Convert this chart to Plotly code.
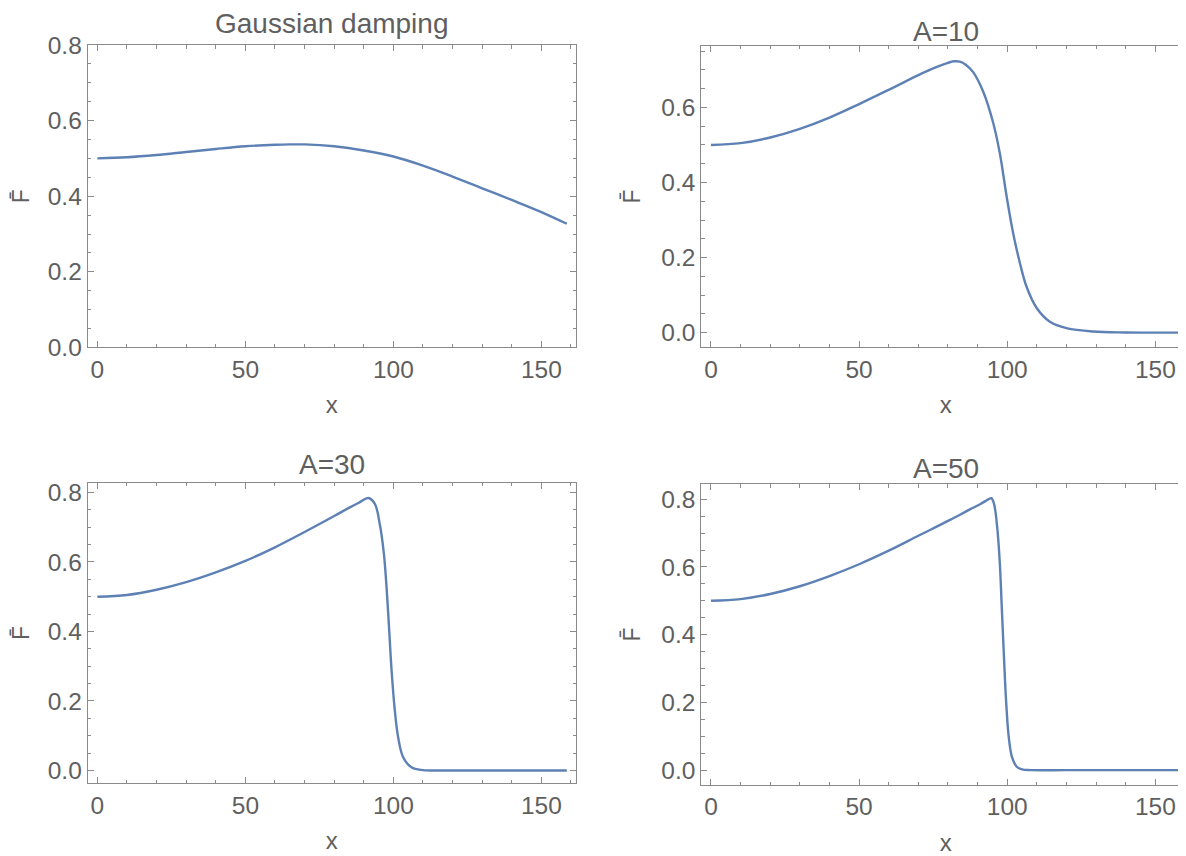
import plotly.graph_objects as go

# ---------------- data ----------------
X_GAUSS = [0, 10, 20, 30, 40, 50, 60, 65, 70, 80, 90, 100, 110, 120, 130, 140, 150, 158.6]
Y_GAUSS = [0.500, 0.503, 0.509, 0.517, 0.525, 0.532, 0.536, 0.537, 0.537, 0.532, 0.521,
           0.505, 0.481, 0.452, 0.421, 0.390, 0.358, 0.327]

X_A10 = [0, 10, 20, 30, 40, 50, 60, 70, 75, 80, 82, 84, 86, 88.5, 92, 95.3, 97.5, 99.8,
         102, 104.3, 106.5, 110, 114.4, 120, 129, 140, 158.6]
Y_A10 = [0.500, 0.505, 0.520, 0.543, 0.573, 0.609, 0.647, 0.686, 0.704, 0.719, 0.723, 0.722,
         0.714, 0.694, 0.640, 0.558, 0.478, 0.363, 0.265, 0.185, 0.123, 0.065, 0.029, 0.012,
         0.003, 0.0005, 0.0]

X_A30 = [0, 10, 20, 30, 40, 50, 60, 70, 80, 85.3, 88.7, 91.5, 93.7, 95.4, 96.8, 97.7, 98.6,
         99.4, 100.5, 101.6, 103.3, 106.1, 110, 120, 158.6]
Y_A30 = [0.500, 0.505, 0.520, 0.542, 0.570, 0.603, 0.642, 0.686, 0.732, 0.757, 0.772, 0.784,
         0.768, 0.709, 0.623, 0.527, 0.402, 0.287, 0.172, 0.096, 0.038, 0.009, 0.001, 0.0, 0.0]

X_A50 = [0, 10, 20, 30, 40, 50, 60, 70, 80.7, 87.4, 91, 93.9, 94.6, 95.5, 96.6, 97.5, 98.2,
         98.9, 99.6, 100.5, 101.6, 103.2, 105, 108, 120, 158.5]
Y_A50 = [0.500, 0.505, 0.520, 0.543, 0.573, 0.608, 0.648, 0.692, 0.739, 0.770, 0.786, 0.801,
         0.803, 0.788, 0.719, 0.611, 0.473, 0.335, 0.207, 0.099, 0.039, 0.010, 0.002, 0.0,
         0.0, 0.0]

TITLES = ["Gaussian damping", "A=10", "A=30", "A=50"]
X_LABEL = "x"
Y_LABEL = "F\u0304"
X_TICKS = [0, 50, 100, 150]
Y_TICKS_GAUSS = [0.0, 0.2, 0.4, 0.6, 0.8]
Y_TICKS_A10 = [0.0, 0.2, 0.4, 0.6]
Y_TICKS_A30 = [0.0, 0.2, 0.4, 0.6, 0.8]
Y_TICKS_A50 = [0.0, 0.2, 0.4, 0.6, 0.8]

# ---------------- styling ----------------
W, H = 1186, 856
OFF = 8  # page body margin of the html page
LINE_COLOR = "#5E81B5"
FRAME = "#8a8a8a"
TEXT = "#5f5f5f"
FONT = "Liberation Sans, Arial, sans-serif"


def px_x(p):
    return (p - OFF) / W


def px_y(p):
    return 1 - (p - OFF) / H


# positions below are in screen pixels of the reference picture
panels = [
    dict(x=X_GAUSS, y=Y_GAUSS, title=TITLES[0], yt=Y_TICKS_GAUSS, xd=(87.7, 576.0), yd=(45.0, 347.4),
         xr=[-3.27, 161.7], yr=[0.0, 0.8], tc=(331.8, 23.8)),
    dict(x=X_A10, y=Y_A10, title=TITLES[1], yt=Y_TICKS_A10, xd=(701.3, 1190.0), yd=(45.7, 347.3),
         xr=[-3.27, 161.7], yr=[-0.039, 0.7645], tc=(945.6, 31.0)),
    dict(x=X_A30, y=Y_A30, title=TITLES[2], yt=Y_TICKS_A30, xd=(87.7, 576.0), yd=(482.7, 783.3),
         xr=[-3.27, 161.7], yr=[-0.037, 0.828], tc=(331.8, 464.7)),
    dict(x=X_A50, y=Y_A50, title=TITLES[3], yt=Y_TICKS_A50, xd=(701.3, 1190.0), yd=(484.0, 785.0),
         xr=[-3.27, 161.7], yr=[-0.044, 0.845], tc=(945.6, 468.0)),
]

fig = go.Figure()
annotations = []
for i, p in enumerate(panels, start=1):
    xa = "x" if i == 1 else f"x{i}"
    ya = "y" if i == 1 else f"y{i}"
    fig.add_trace(go.Scatter(
        x=p["x"], y=p["y"], mode="lines", xaxis=xa, yaxis=ya,
        line=dict(color=LINE_COLOR, width=2.4, shape="spline", smoothing=1.0),
        showlegend=False, hoverinfo="skip"))

    common = dict(
        showline=True, linecolor=FRAME, linewidth=1, mirror="ticks",
        ticks="inside", ticklen=6, tickwidth=1, tickcolor=FRAME,
        showgrid=False, zeroline=False,
        tickfont=dict(family=FONT, size=24.5, color=TEXT),
    )
    xkey = "xaxis" if i == 1 else f"xaxis{i}"
    ykey = "yaxis" if i == 1 else f"yaxis{i}"
    fig.update_layout({
        xkey: dict(common, anchor=ya, domain=[px_x(p["xd"][0]), px_x(p["xd"][1])],
                   range=p["xr"], tickmode="array", tickvals=X_TICKS,
                   ticktext=[str(v) for v in X_TICKS],
                   ticklabelstandoff=0,
                   minor=dict(dtick=10, tick0=0, ticks="inside", ticklen=3.5,
                              tickcolor=FRAME, tickwidth=1, showgrid=False),
                   title=dict(text=X_LABEL, font=dict(family=FONT, size=24, color=TEXT),
                              standoff=14)),
        ykey: dict(common, anchor=xa, domain=[px_y(p["yd"][1]), px_y(p["yd"][0])],
                   range=p["yr"], tickmode="array", tickvals=p["yt"],
                   ticktext=[f"{v:.1f}" for v in p["yt"]],
                   ticklabelstandoff=0,
                   minor=dict(dtick=0.05, tick0=0, ticks="inside", ticklen=3.5,
                              tickcolor=FRAME, tickwidth=1, showgrid=False),
                   title=dict(text=Y_LABEL, font=dict(family=FONT, size=23, color=TEXT),
                              standoff=14)),
    })
    annotations.append(dict(
        text=p["title"], x=px_x(p["tc"][0]), y=px_y(p["tc"][1]), xref="paper", yref="paper",
        xanchor="center", yanchor="middle", showarrow=False, borderpad=0, borderwidth=0,
        font=dict(family=FONT, size=28, color=TEXT)))

fig.update_layout(
    template="none",
    width=W, height=H,
    margin=dict(l=0, r=0, t=0, b=0),
    paper_bgcolor="white", plot_bgcolor="white",
    annotations=annotations,
    showlegend=False,
)

fig.write_html("out.html")
